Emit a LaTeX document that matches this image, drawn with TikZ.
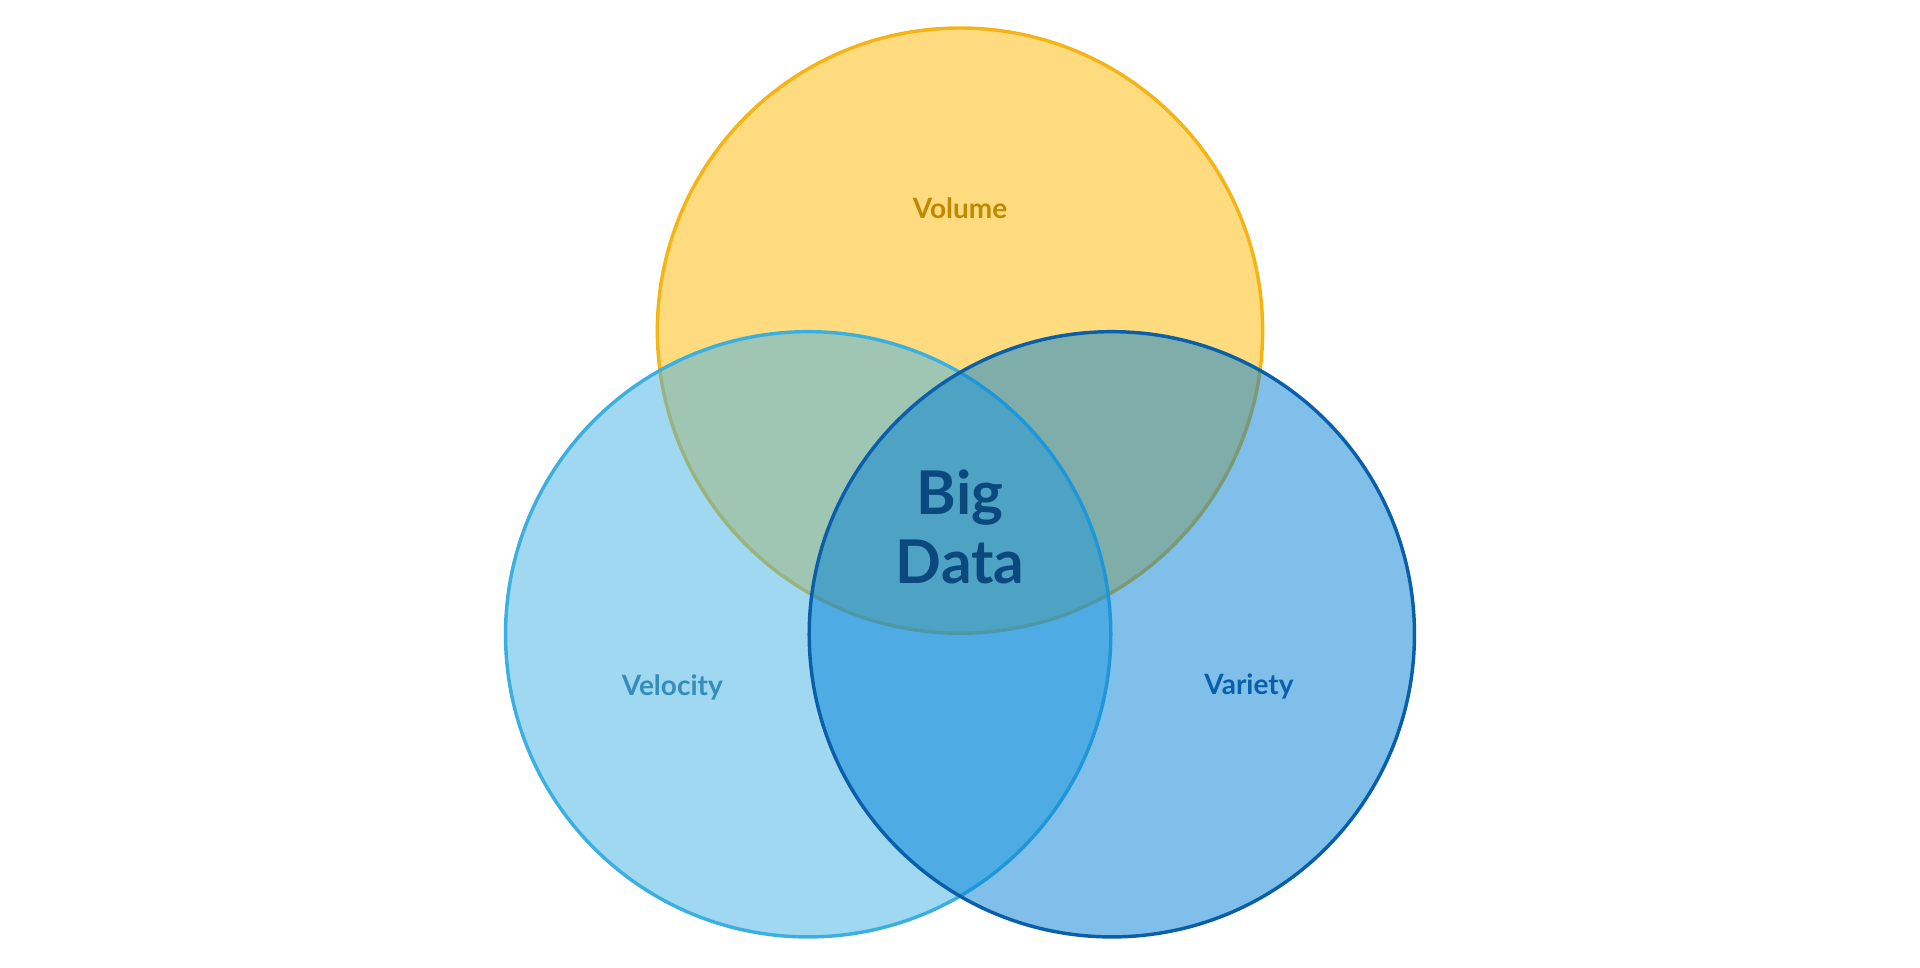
\documentclass[tikz,border=0pt]{standalone}
\usepackage{fontspec}
\setmainfont{Lato}
\begin{document}
\begin{tikzpicture}[x=0.01cm,y=-0.01cm,
  set/.style={circle,minimum size=4.94cm,inner sep=0pt,fill opacity=0.5,draw opacity=1,line width=0.8pt},
  lbl/.style={font=\bfseries\fontsize{6.5}{8}\selectfont},
  core/.style={font=\bfseries\fontsize{14}{16}\selectfont,align=center,text=bigdatacolor}]
\definecolor{volumecolor}{RGB}{255,183,0}
\definecolor{volumeline}{RGB}{245,180,20}
\definecolor{velocitycolor}{RGB}{65,177,230}
\definecolor{velocityline}{RGB}{60,175,225}
\definecolor{varietycolor}{RGB}{0,128,213}
\definecolor{varietyline}{RGB}{10,95,170}
\definecolor{bigdatacolor}{RGB}{10,72,125}
\useasboundingbox (0,0) rectangle (1568,790);
\node [set,fill=volumecolor,draw=volumeline] (volume) at (784,270) {};
\node [set,fill=velocitycolor,draw=velocityline] (velocity) at (660,518) {};
\node [set,fill=varietycolor,draw=varietyline] (variety) at (908,518) {};
\node [lbl,text=volumecolor!75!black] (volumetext) at (784,170) {Volume};
\node [lbl,text=velocitycolor!80!black] (velocitytext) at (549,561) {Velocity};
\node [lbl,text=varietyline] (varietytext) at (1020,561) {Variety};
\node [core] (bigdata) at (784,430) {Big\\Data};
\end{tikzpicture}
\end{document}
